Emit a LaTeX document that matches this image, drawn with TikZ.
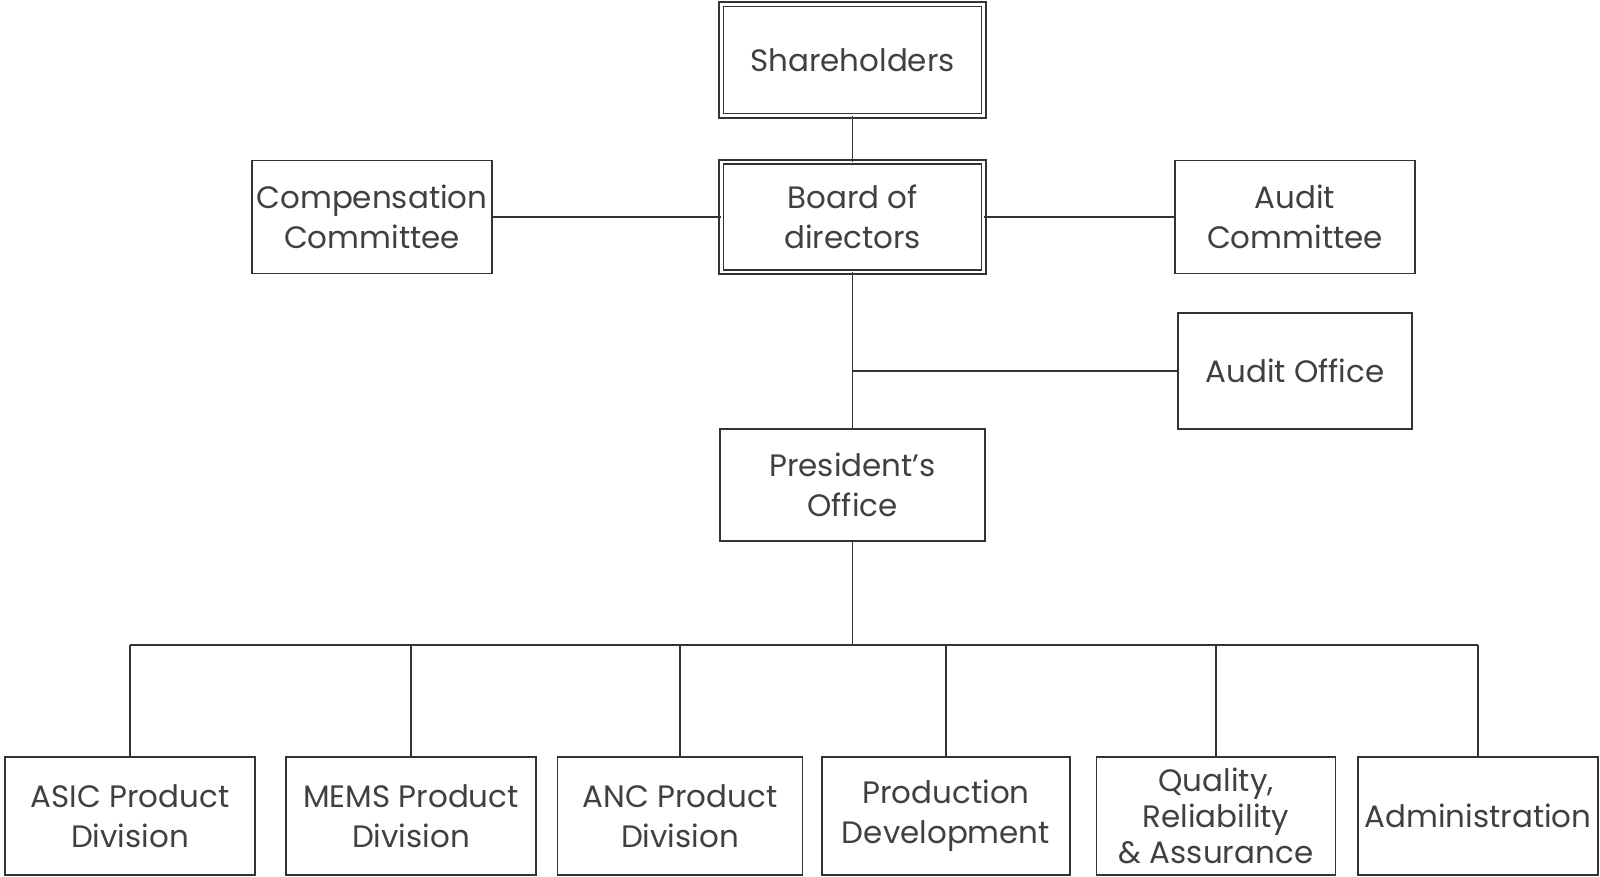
\documentclass[tikz,border=0pt]{standalone}
\usepackage{fontspec}
\setmainfont{Poppins}
\usetikzlibrary{positioning,calc}

\tikzset{
  unit/.style={draw=black!80, line width=0.5pt, rectangle, align=center,
    inner sep=0pt, outer sep=0pt, minimum height=1.13cm,
    text=black!75, font=\fontsize{8.8}{11.3}\selectfont},
  topunit/.style={unit, double, double distance=0.7pt, minimum width=2.62cm},
  link/.style={draw=black!80, line width=0.5pt}
}

\begin{document}
\begin{tikzpicture}[x=0.01cm,y=-0.01cm]
  \useasboundingbox (0,0) rectangle (1600,877);

  % governance
  \node[topunit, minimum height=1.11cm] (share) at (852.5,60) {Shareholders};
  \node[topunit, minimum height=1.10cm] (board) at (852.5,217) {Board of\\directors};
  \node[unit, minimum width=2.4cm] (comp) at (372,217) {Compensation\\Committee};
  \node[unit, minimum width=2.4cm] (auditc) at (1295,217) {Audit\\Committee};
  \node[unit, minimum width=2.34cm, minimum height=1.16cm] (audito) at (1295,371) {Audit Office};
  \node[unit, minimum width=2.65cm, minimum height=1.12cm] (pres) at (852.5,485) {President's\\Office};

  % divisions
  \node[unit, minimum width=2.5cm, minimum height=1.18cm] (asic) at (130,816) {ASIC Product\\Division};
  \node[unit, minimum width=2.5cm, minimum height=1.18cm] (mems) at (411,816) {MEMS Product\\Division};
  \node[unit, minimum width=2.45cm, minimum height=1.18cm] (anc) at (680,816) {ANC Product\\Division};
  \node[unit, minimum width=2.48cm, minimum height=1.18cm] (prod) at (946,816) {Production\\Development};
  \node[unit, minimum width=2.39cm, minimum height=1.18cm,
    font=\fontsize{8.8}{10.3}\selectfont] (qra) at (1216,816) {Quality,\\Reliability\\\& Assurance};
  \node[unit, minimum width=2.4cm, minimum height=1.18cm] (admin) at (1478,816) {Administration};

  \coordinate (bus) at (852.5,645);

  \draw[link] (share) -- (board);
  \draw[link] (board) -- (comp);
  \draw[link] (board) -- (auditc);
  \draw[link] (board) -- (pres);
  \draw[link] (board.south |- audito.west) -- (audito.west);
  \draw[link] (pres) -- (bus);
  \draw[link] (bus -| asic.north) -- (bus -| admin.north);
  \foreach \d in {asic,mems,anc,prod,qra,admin}
    \draw[link] (bus -| \d.north) -- (\d.north);
\end{tikzpicture}
\end{document}
